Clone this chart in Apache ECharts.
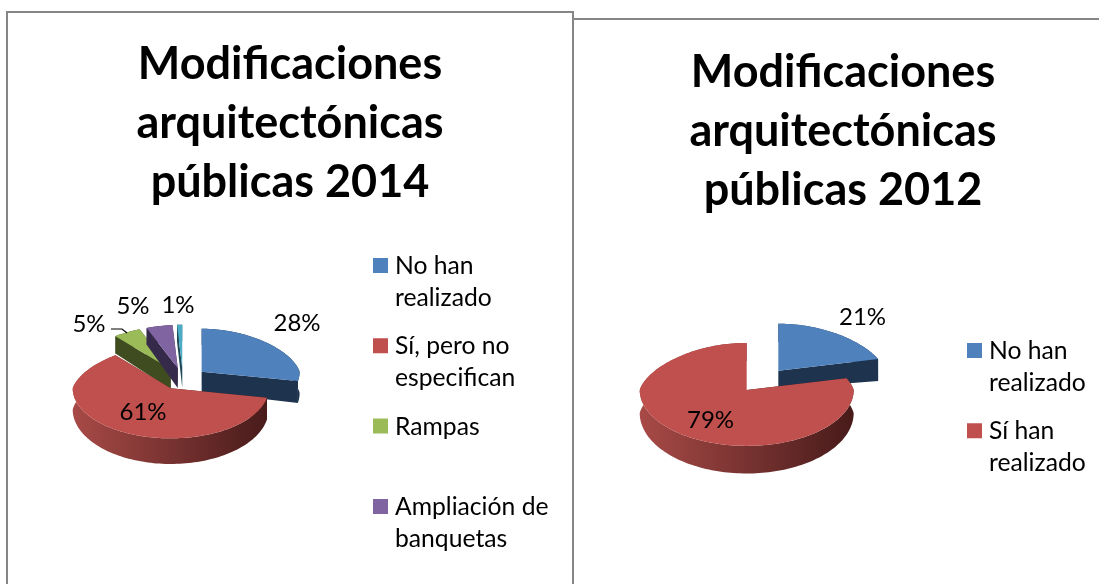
<!DOCTYPE html>
<html>
<head>
<meta charset="utf-8">
<title>Modificaciones arquitectónicas públicas</title>
<script src="https://cdn.jsdelivr.net/npm/echarts@6/dist/echarts.min.js"></script>
<style>
  html, body { margin: 0; padding: 0; background: #fff; }
  #chart { width: 1099px; height: 584px; }
</style>
</head>
<body>
<div id="chart"></div>
<script>
// data
const title2014 = 'Modificaciones\narquitectónicas\npúblicas 2014';
const title2012 = 'Modificaciones\narquitectónicas\npúblicas 2012';
const categories2014 = ['No han\nrealizado', 'Sí, pero no\nespecifican', 'Rampas\n ', 'Ampliación de\nbanquetas', 'Otras'];
const values2014 = [28, 61, 5, 5, 1];
const legend2014 = categories2014.slice(0, 4); // the fifth entry is cut off in the original
const categories2012 = ['No han\nrealizado', 'Sí han\nrealizado'];
const values2012 = [21, 79];

const FONT = 'Lato, "Noto Sans", sans-serif';
const topColors = ['#4f81bd', '#c0504d', '#9bbb59', '#8064a2', '#4bacc6'];
const wallColors = ['#1d334e', '#a84a47', '#3f4c20', '#362a4a', '#1e4a57'];
const wallEnd = ['#1d334e', '#471b1a', '#3f4c20', '#362a4a', '#1e4a57'];
// swatch sits on the first text line, so the icon box is as tall as both lines
const LEGEND_ICON = 'path://M0 8H15V23H0Z M0 0H0Z M17 64H17Z';

const pie2014 = {
  cx: 183, cy: 378.8, a: 98, bBack: 43, bFront: 50, explode: 24.2, squash: 0.458,
  depth: 21, depthVar: 0.22, apexDepth: 20,
  labels: [[114, -56], [-40, 33], [-94, -55], [-50, -73], [-5, -74]],
  leader: { 2: [[111, 329], [122, 329], [127, 333]] }
};
const pie2012 = {
  cx: 762.5, cy: 380.3, a: 107, bBack: 47, bFront: 56, explode: 25.8, squash: 0.47,
  depth: 23, depthVar: 0.2, apexDepth: 18,
  labels: [[100, -63], [-52, 40]]
};

// point on the rim, angle in radians clockwise from 12 o'clock
function rim(p, ox, oy, ang) {
  const c = Math.cos(ang);
  const a = p.a * (c > 0 ? 1 - 0.15 * c : 1);
  const b = c > 0 ? p.bBack : p.bFront;
  return [ox + a * Math.sin(ang), oy - b * c];
}
function rimDepth(p, ang) {
  return p.depth * (1 - p.depthVar * Math.cos(ang));
}

function renderSlice(p, idx) {
  return function (params, api) {
    const start = api.value(0) / 100 * Math.PI * 2;
    const end = api.value(1) / 100 * Math.PI * 2;
    const mid = (start + end) / 2;
    const ox = p.cx + p.explode * Math.sin(mid);
    const oy = p.cy - p.explode * p.squash * Math.cos(mid);

    const n = Math.max(2, Math.ceil((end - start) / 0.03));
    const upper = [], lower = [];
    for (let i = 0; i <= n; i++) {
      const ang = start + (end - start) * i / n;
      const pt = rim(p, ox, oy, ang);
      upper.push(pt);
      lower.push([pt[0], pt[1] + rimDepth(p, ang)]);
    }
    const apex = [ox, oy];
    const apexLow = [ox, oy + p.apexDepth];
    const kids = [];
    const dark = wallColors[idx];

    // the two cut faces
    [[upper[0], lower[0]], [upper[n], lower[n]]].forEach(function (e) {
      kids.push({ type: 'polygon', shape: { points: [apex, e[0], e[1], apexLow] }, style: { fill: wallEnd[idx] } });
    });
    // outer wall, dark towards the right as in the original
    kids.push({
      type: 'polygon',
      shape: { points: upper.concat(lower.slice().reverse()) },
      style: {
        fill: {
          type: 'linear', global: true,
          x: ox - p.a, y: 0, x2: ox + p.a, y2: 0,
          colorStops: [{ offset: 0, color: dark }, { offset: 1, color: wallEnd[idx] }]
        }
      }
    });
    // top face
    kids.push({ type: 'polygon', shape: { points: [apex].concat(upper) }, style: { fill: topColors[idx] } });

    // value label
    const lab = p.labels[idx];
    kids.push({
      type: 'text',
      z2: 20,
      style: {
        text: (api.value(1) - api.value(0)) + '%',
        x: p.cx + lab[0], y: p.cy + lab[1],
        fill: '#000', font: '24px ' + FONT, align: 'center', verticalAlign: 'middle'
      }
    });
    if (p.leader && p.leader[idx]) {
      kids.push({
        type: 'polyline',
        z2: 20,
        shape: { points: p.leader[idx] },
        style: { stroke: '#000', lineWidth: 1.2, fill: 'none' }
      });
    }
    return { type: 'group', children: kids };
  };
}

function sliceSeries(cats, vals, p, order) {
  let acc = 0;
  const ranges = vals.map(function (v) { const r = [acc, acc + v]; acc += v; return r; });
  return order.map(function (i) {
    return {
      type: 'custom',
      name: cats[i],
      coordinateSystem: 'none',
      silent: true,
      animation: false,
      itemStyle: { color: topColors[i] },
      renderItem: renderSlice(p, i),
      data: [ranges[i]]
    };
  });
}

function legendFor(names, left, top) {
  return {
    orient: 'vertical', left: left, top: top, padding: 0,
    data: names.map(function (n) { return { name: n, icon: LEGEND_ICON }; }),
    selectedMode: false,
    itemWidth: 17, itemHeight: 64, itemGap: 16.3,
    textStyle: { fontFamily: FONT, fontSize: 24.7, lineHeight: 32, color: '#000' }
  };
}

function titleFor(text, x, y) {
  return {
    text: text, left: x, top: y, textAlign: 'center', padding: 0,
    textStyle: { fontFamily: FONT, fontSize: 45, fontWeight: 'bold', lineHeight: 59, color: '#000' }
  };
}

const chart = echarts.init(document.getElementById('chart'), null, { renderer: 'canvas' });
chart.setOption({
  backgroundColor: '#fff',
  animation: false,
  title: [titleFor(title2014, 290, 35), titleFor(title2012, 843, 43)],
  legend: [legendFor(legend2014, 373, 250), legendFor(categories2012, 967, 335)],
  graphic: [{
    type: 'polyline',
    shape: { points: [[7, 600], [7, 12], [573, 12], [573, 600]] },
    style: { stroke: '#868686', lineWidth: 2, fill: 'none' }
  }, {
    type: 'line',
    shape: { x1: 573, y1: 19, x2: 1099, y2: 19 },
    style: { stroke: '#868686', lineWidth: 2 }
  }],
  series: sliceSeries(categories2014, values2014, pie2014, [0, 2, 3, 4, 1])
    .concat(sliceSeries(categories2012, values2012, pie2012, [0, 1]))
});
</script>
</body>
</html>
